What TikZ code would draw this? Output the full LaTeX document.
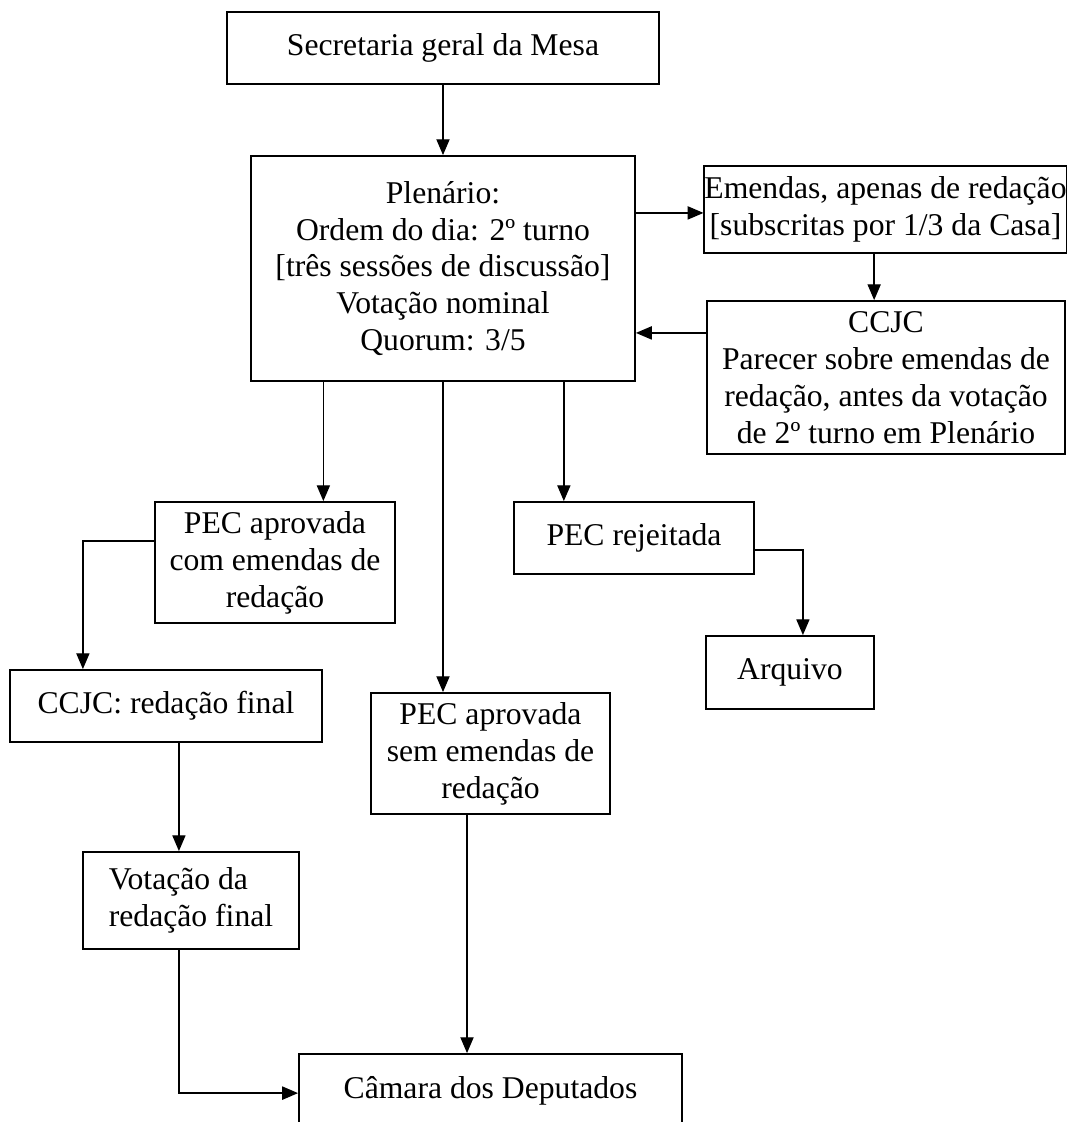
\documentclass[tikz,border=0pt]{standalone}
\usepackage{fontspec}
\setmainfont{Liberation Serif}
\usepackage{tikz}
\usetikzlibrary{positioning}
\usetikzlibrary{arrows.meta}
\usetikzlibrary{calc}

\begin{document}
\begin{tikzpicture}[
    x=0.379pt, y=-0.379pt,
    mybox/.style={draw,line width=0.7pt,align=center,inner sep=0pt,
      font=\fontsize{12}{14}\selectfont},
    boxsize/.style 2 args={minimum width=#1*0.379pt,minimum height=#2*0.379pt},
    arr/.style={-{Triangle[length=6pt,width=5pt]},line width=0.5pt}
    ]
    \clip (0,0) rectangle (1067,1122);

    \node[mybox,boxsize={432}{72}] (secretaria) at (443,48) {Secretaria geral da Mesa};
    \node[mybox,boxsize={384}{225}] (plenario) at (443,268.5) {Plenário:\\Ordem do dia: 2º turno\\{[três sessões de discussão]}\\Votação nominal\\Quorum: 3/5};
    \node[mybox,boxsize={358}{87}] (emendas) at (885.5,209.5) {Emendas, apenas de redação\\{[subscritas por 1/3 da Casa]}};
    \node[mybox,boxsize={358}{153}] (ccjc) at (886,377.5) {CCJC\\Parecer sobre emendas de\\redação, antes da votação\\de 2º turno em Plenário};
    \node[mybox,boxsize={240}{121}] (aprovcom) at (275,562.5) {PEC aprovada\\com emendas de\\redação};
    \node[mybox,boxsize={240}{72}] (rejeitada) at (634,538) {PEC rejeitada};
    \node[mybox,boxsize={168}{73}] (arquivo) at (790,672.5) {Arquivo};
    \node[mybox,boxsize={312}{72}] (redfinal) at (166,706) {CCJC: redação final};
    \node[mybox,boxsize={239}{121}] (aprovsem) at (490.5,753.5) {PEC aprovada\\sem emendas de\\redação};
    \node[mybox,boxsize={216}{97},align=left] (votfinal) at (191,900.5) {Votação da\\redação final};
    \node[mybox,boxsize={383}{74}] (camara) at (490.5,1091) {Câmara dos Deputados};

    % entry points on the upper edges
    \coordinate (comtop) at ($(aprovcom.north west)!0.7!(aprovcom.north east)$);
    \coordinate (rejtop) at ($(rejeitada.north west)!0.21!(rejeitada.north east)$);

    \draw[arr] (secretaria) -- (plenario);
    \draw[arr] ([yshift=-1.3pt]plenario.east |- emendas.west) -- ([yshift=-1.3pt]emendas.west);
    \draw[arr] ([xshift=-4.3pt]emendas.south) -- ([xshift=-4.3pt]emendas.south |- ccjc.north);
    \draw[arr] ([yshift=16.9pt]ccjc.west) -- ([yshift=16.9pt]ccjc.west -| plenario.east);

    \draw[arr] (comtop |- plenario.south) -- (comtop);
    \draw[arr] (plenario.south) -- (plenario.south |- aprovsem.north);
    \draw[arr] (rejtop |- plenario.south) -- (rejtop);

    \draw[arr] ([yshift=-4.5pt]rejeitada.east) -| ([xshift=4.9pt]arquivo.north);
    \draw[arr] ([yshift=8.1pt]aprovcom.west) -| ([xshift=-31.5pt]redfinal.north);
    \draw[arr] ([xshift=4.9pt]redfinal.south) -- ([xshift=4.9pt]redfinal.south |- votfinal.north);
    \draw[arr] ([xshift=-4.5pt]votfinal.south) |- ([yshift=-0.8pt]camara.west);
    \draw[arr] ([xshift=-8.9pt]aprovsem.south) -- ([xshift=-8.9pt]aprovsem.south |- camara.north);

\end{tikzpicture}
\end{document}
